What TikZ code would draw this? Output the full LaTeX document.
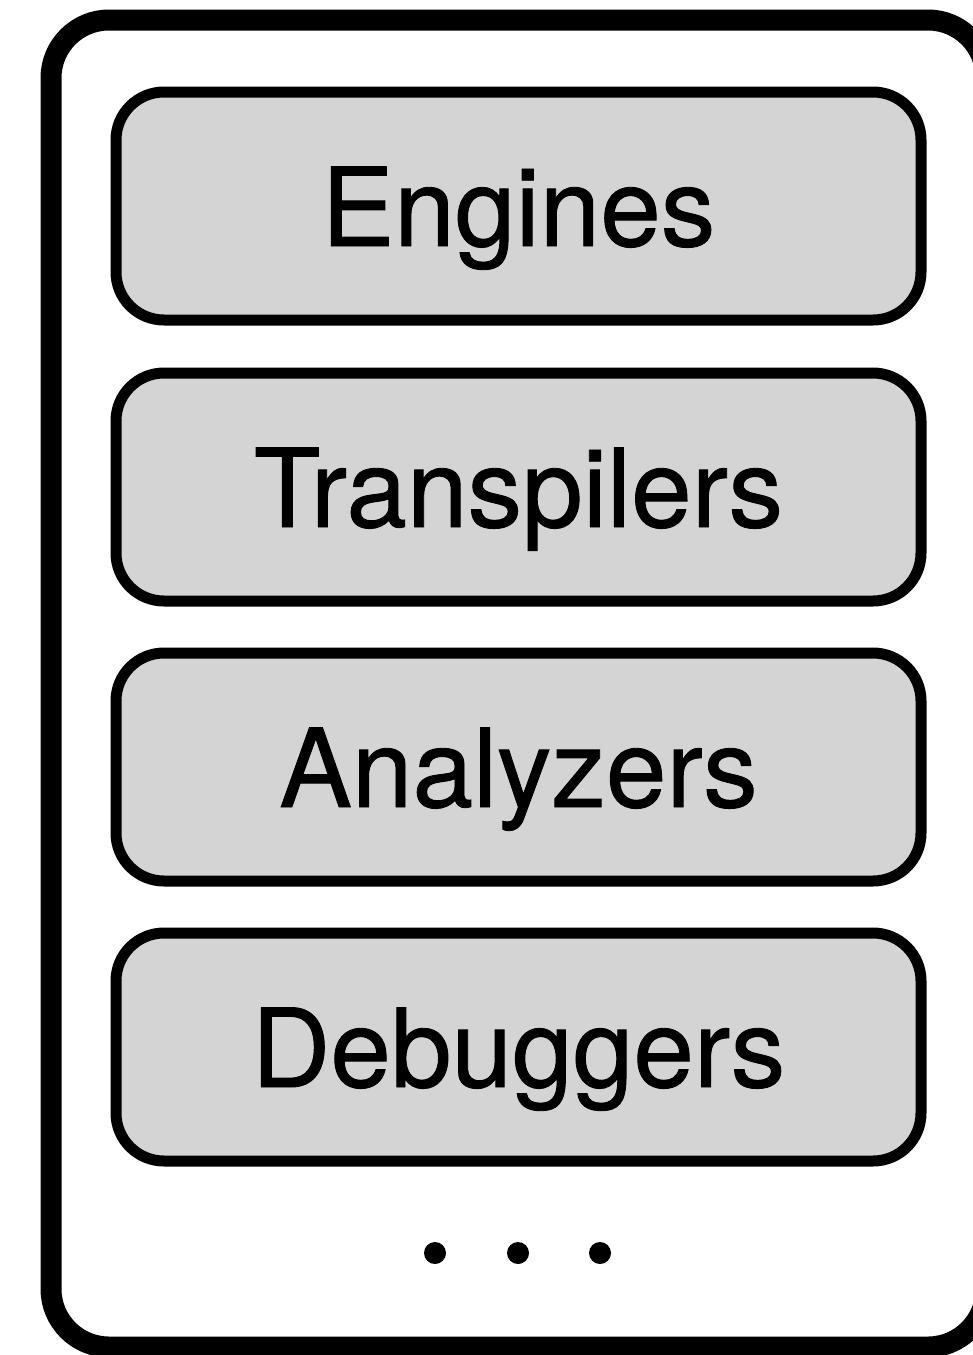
\documentclass[tikz,border=0pt]{standalone}
\usepackage{fontspec}
\setmainfont{TeX Gyre Heros}
\newfontfamily\labelfont[FakeBold=0.8]{TeX Gyre Heros}
\definecolor{boxgray}{RGB}{212,212,212}
\tikzset{
  frame/.style={draw=black, line width=21pt, rounded corners=58pt,
    minimum width=935pt, minimum height=1327pt, inner sep=0pt},
  layerbox/.style={draw=black, fill=boxgray, line width=11pt, rounded corners=48pt,
    minimum width=805pt, minimum height=228pt, inner sep=0pt,
    text height=80pt, text depth=0pt,
    font=\labelfont\fontsize{109}{120}\selectfont},
  dot/.style={circle, fill=black, minimum size=22pt, inner sep=0pt}
}
\begin{document}
\begin{tikzpicture}[x=1pt, y=-1pt]
  \useasboundingbox (0,0) rectangle (973,1355);
  \clip (0,0) rectangle (973,1355);
  % outer container
  \node[frame] (stack) at (518.5,683.5) {};
  % tool layers
  \node[layerbox] (engines)     at (518.5,206) {Engines};
  \node[layerbox] (transpilers) at (518.5,487) {Transpilers};
  \node[layerbox] (analyzers)   at (518.5,767) {Analyzers};
  \node[layerbox] (debuggers)   at (518.5,1047) {Debuggers};
  % ellipsis
  \node[dot] (d1) at (435,1253) {};
  \node[dot] (d2) at (518,1253) {};
  \node[dot] (d3) at (600,1253) {};
\end{tikzpicture}
\end{document}
